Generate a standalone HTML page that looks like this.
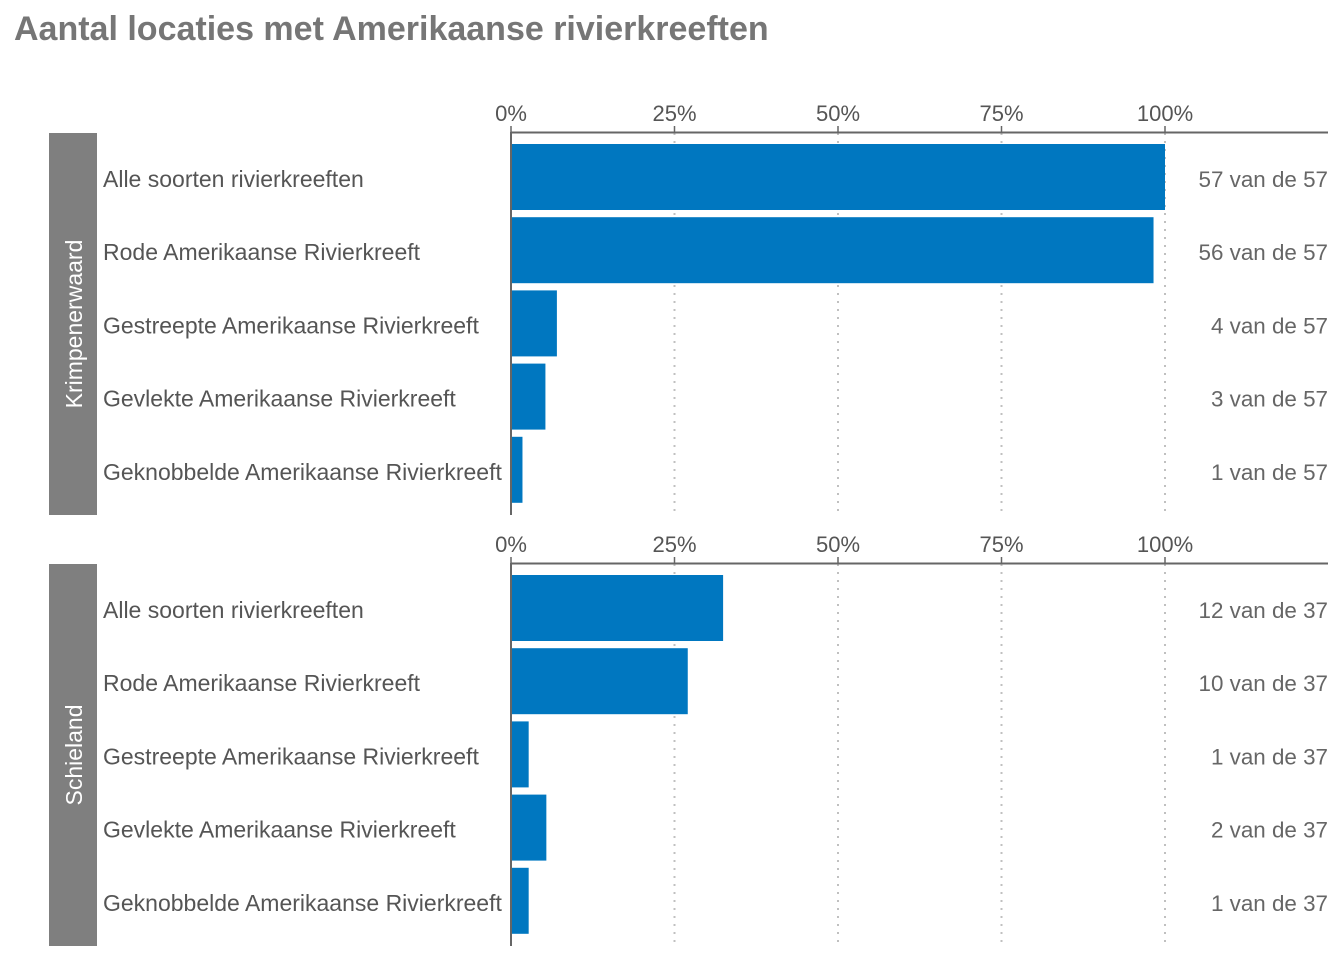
<!DOCTYPE html>
<html><head><meta charset="utf-8"><style>
body{margin:0;background:#fff;width:1344px;height:960px;overflow:hidden;font-family:"Liberation Sans",sans-serif}
</style></head><body>
<svg id="chart" width="1344" height="960" xmlns="http://www.w3.org/2000/svg" font-family="Liberation Sans, sans-serif">
<text x="14" y="40" font-size="34" font-weight="bold" fill="#767676">Aantal locaties met Amerikaanse rivierkreeften</text>
</svg>
<script>
const categories=["Alle soorten rivierkreeften","Rode Amerikaanse Rivierkreeft","Gestreepte Amerikaanse Rivierkreeft","Gevlekte Amerikaanse Rivierkreeft","Geknobbelde Amerikaanse Rivierkreeft"];
const panels=["Krimpenerwaard","Schieland"];
const countsKrimpenerwaard=[57,56,4,3,1];
const totalKrimpenerwaard=57;
const countsSchieland=[12,10,1,2,1];
const totalSchieland=37;
const ticks=[0,25,50,75,100];
const tickLabels=["0%","25%","50%","75%","100%"];

const svg=document.getElementById('chart');
const NS="http://www.w3.org/2000/svg";
const x=p=>511+p*6.54;
function mk(tag,attrs,txt){const e=document.createElementNS(NS,tag);for(const k in attrs)e.setAttribute(k,attrs[k]);if(txt!==undefined)e.textContent=txt;svg.appendChild(e);return e;}
const panelData=[[countsKrimpenerwaard,totalKrimpenerwaard,132],[countsSchieland,totalSchieland,563]];
panelData.forEach((pd,pi)=>{
  const [counts,total,top]=pd;
  const bottom=top+383;
  const strip=mk('rect',{x:49,y:top+1,width:48,height:382,fill:'#7f7f7f'});
  
  
  const cy=top+192;
  const st=mk('text',{x:0,y:0,transform:`translate(82,${cy}) rotate(-90)`,'text-anchor':'middle','font-size':23,fill:'#fff'},panels[pi]);
  
  
  ticks.forEach((t,i)=>{
    if(t>0){const g=mk('line',{x1:x(t),x2:x(t),y1:top+1,y2:bottom,stroke:'#c0c0c0','stroke-width':2,'stroke-dasharray':'2,6'});
      
      }
    const tk=mk('line',{x1:x(t),x2:x(t),y1:top-6,y2:top,stroke:'#666','stroke-width':1.5});
    
    
    const tl=mk('text',{x:x(t),y:top-11,'text-anchor':'middle','font-size':22,fill:'#555'},tickLabels[i]);
    
    
  });
  const ax=mk('line',{x1:511,x2:1328,y1:top+0.5,y2:top+0.5,stroke:'#666','stroke-width':2});
  
  
  counts.forEach((c,i)=>{
    const rc=top+45+i*73.2;
    const b=mk('rect',{x:511,y:rc-33,width:x(c/total*100)-511,height:66,fill:'#0077c0'});
    
    
    const cl=mk('text',{x:103,y:rc+10,'font-size':23,fill:'#555'},categories[i]);
    
    
    const vl=mk('text',{x:1328,y:rc+10,'text-anchor':'end','font-size':22.4,fill:'#666'},c+' van de '+total);
    
    
  });
  const ya=mk('line',{x1:511,x2:511,y1:top,y2:bottom,stroke:'#666','stroke-width':2});
  
  
});
</script>
</body></html>
